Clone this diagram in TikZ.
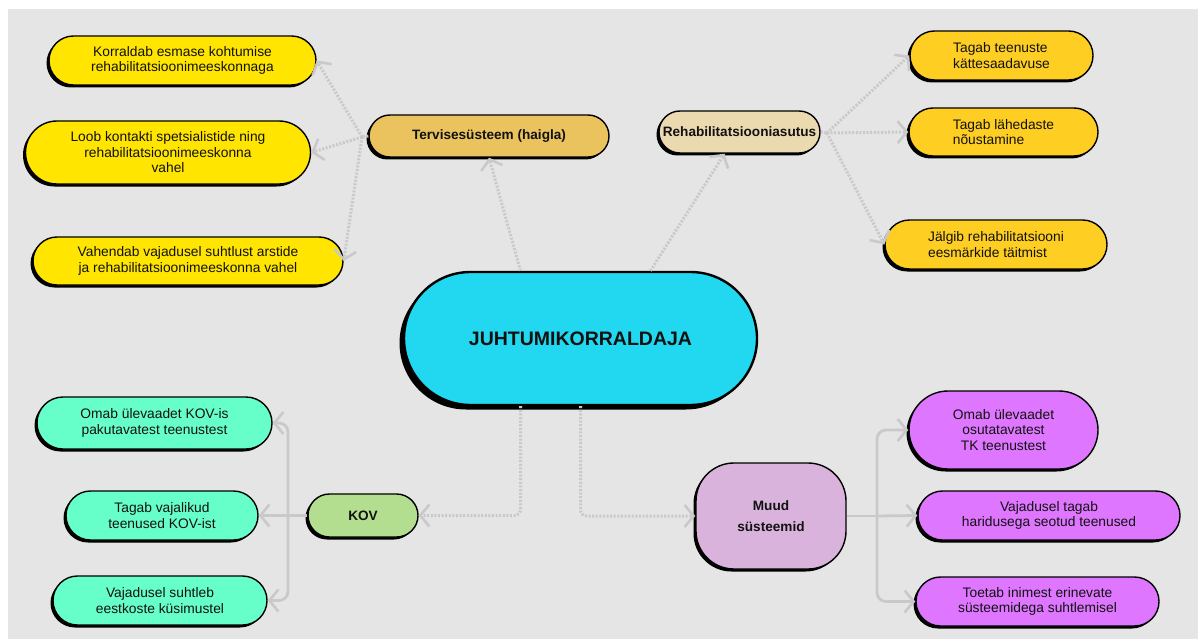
\documentclass[tikz,border=0pt]{standalone}
\usepackage{fontspec}
\setmainfont{Liberation Sans}
\usetikzlibrary{arrows.meta,shadows,calc}
\definecolor{bgc}{HTML}{E5E5E5}
\definecolor{linec}{HTML}{C9C9C9}
\definecolor{txt}{HTML}{111111}
\definecolor{yel}{HTML}{FFE500}
\definecolor{terv}{HTML}{EBC35E}
\definecolor{rehab}{HTML}{EBD9B0}
\definecolor{ora}{HTML}{FFCE22}
\definecolor{cyanc}{HTML}{22D8F0}
\definecolor{mint}{HTML}{66FFCA}
\definecolor{kovc}{HTML}{B3DE8F}
\definecolor{muudc}{HTML}{D9B3DC}
\definecolor{purp}{HTML}{DF76FF}
\begin{document}
\begin{tikzpicture}[x=1pt,y=-1pt,
  box/.style={draw=black, line width=1.4pt, inner sep=0pt, text=txt, align=center,
    font=\fontsize{13.8}{15.5}\selectfont,
    general shadow={fill=black, shadow xshift=-2.5pt, shadow yshift=-2.5pt}},
  head/.style={box, font=\fontsize{13.6}{15.5}\selectfont\bfseries},
  tipc/.style={-{Straight Barb[length=9pt,width=22pt,line width=2.6pt]}},
  dotc/.style={draw=linec, line width=3pt, dash pattern=on 2pt off 1.6pt, rounded corners=6pt, tipc},
  dotp/.style={draw=linec, line width=3pt, dash pattern=on 2pt off 1.6pt},
  solc/.style={draw=linec, line width=2.8pt, rounded corners=9pt, tipc},
  solp/.style={draw=linec, line width=2.8pt, rounded corners=9pt}
]
\useasboundingbox (0,0) rectangle (1198,639);
\fill[white] (0,0) rectangle (1198,639);
\fill[bgc] (8,9) rectangle (1198,639);

% top-left
\node[box, fill=yel, minimum width=267pt, minimum height=49pt, rounded corners=24.5pt] (y1) at (182.5,60.5) {Korraldab esmase kohtumise\\rehabilitatsioonimeeskonnaga};
\node[box, fill=yel, minimum width=285pt, minimum height=63pt, rounded corners=31.5pt] (y2) at (168,152.5) {Loob kontakti spetsialistide ning\\rehabilitatsioonimeeskonna\\vahel};
\node[box, fill=yel, minimum width=310pt, minimum height=48pt, rounded corners=24pt] (y3) at (188,261) {Vahendab vajadusel suhtlust arstide\\ja rehabilitatsioonimeeskonna vahel};
\node[head, fill=terv, minimum width=240pt, minimum height=42pt, rounded corners=21pt] (tv) at (489,136) {Tervisesüsteem (haigla)};

% top-right
\node[head, fill=rehab, minimum width=161pt, minimum height=42pt, rounded corners=21pt] (rh) at (739.5,132) {Rehabilitatsiooniasutus};
\node[box, fill=ora, minimum width=183pt, minimum height=49pt, rounded corners=24.5pt, align=left] (o1) at (1001.5,55.5) {Tagab teenuste\\kättesaadavuse};
\node[box, fill=ora, minimum width=189pt, minimum height=48pt, rounded corners=24pt, align=left] (o2) at (1003.5,132) {Tagab lähedaste\\nõustamine};
\node[box, fill=ora, minimum width=222pt, minimum height=49pt, rounded corners=24.5pt, align=left] (o3) at (996,244.5) {Jälgib rehabilitatsiooni\\eesmärkide täitmist};

% center
\node[box, fill=cyanc, line width=2.4pt, minimum width=353pt, minimum height=133pt, rounded corners=66.5pt,
  general shadow={fill=black, shadow xshift=-4.5pt, shadow yshift=-4.5pt},
  font=\fontsize{19.5}{24}\selectfont\bfseries] (c) at (580.5,338.5) {JUHTUMIKORRALDAJA};

% bottom-left
\node[box, fill=mint, minimum width=235pt, minimum height=52pt, rounded corners=26pt] (g1) at (154.5,423) {Omab ülevaadet KOV-is\\pakutavatest teenustest};
\node[box, fill=mint, minimum width=192pt, minimum height=49pt, rounded corners=24.5pt] (g2) at (162,515.5) {Tagab vajalikud\\teenused KOV-ist};
\node[box, fill=mint, minimum width=214pt, minimum height=49pt, rounded corners=24.5pt] (g3) at (160,600.5) {Vajadusel suhtleb\\eestkoste küsimustel};
\node[head, fill=kovc, minimum width=110pt, minimum height=43pt, rounded corners=21.5pt] (kov) at (363,515.5) {KOV};

% bottom-right
\node[head, fill=muudc, minimum width=150pt, minimum height=106pt, rounded corners=38pt, font=\fontsize{13.6}{21}\selectfont\bfseries] (md) at (771,516) {Muud\\süsteemid};
\node[box, fill=purp, minimum width=189pt, minimum height=78pt, rounded corners=39pt] (p1) at (1003.5,430) {Omab ülevaadet\\osutatavatest\\TK teenustest};
\node[box, fill=purp, minimum width=262pt, minimum height=49pt, rounded corners=24.5pt] (p2) at (1049,515.5) {Vajadusel tagab\\haridusega seotud teenused};
\node[box, fill=purp, minimum width=243pt, minimum height=49pt, rounded corners=24.5pt] (p3) at (1037.5,601.5) {Toetab inimest erinevate\\süsteemidega suhtlemisel};

% connectors
\coordinate (tj) at (362,137);
\coordinate (rj) at (827,133);
\draw[dotc] ([xshift=-60pt]c.north) -- (tv.south);
\draw[dotc] ([xshift=70pt]c.north) -- ([xshift=-15pt]rh.south);
\draw[dotp] (tv.west) -- (tj);
\draw[dotc] (tj) -- (y1.east);
\draw[dotc] (tj) -- (y2.east);
\draw[dotc] (tj) -- (y3.east);
\draw[dotp] (rh.east) -- (rj);
\draw[dotc] (rj) -- (o1.west);
\draw[dotc] (rj) -- (o2.west);
\draw[dotc] (rj) -- (o3.west);
\draw[dotc] ([xshift=-60pt]c.south) |- (kov.east);
\draw[dotc] (c.south) |- (md.west);

\coordinate (kj) at (288,515.5);
\draw[solp] (kov.west) -- (kj);
\draw[solc] (kj) -- (g2.east);
\draw[solc] (kj) |- (g1.east);
\draw[solc] (kj) |- (g3.east);

\coordinate (mj) at (877,516);
\draw[solp] (md.east) -- (mj);
\draw[solc] (mj) -- (p2.west);
\draw[solc] (mj) |- (p1.west);
\draw[solc] (mj) |- (p3.west);
\end{tikzpicture}
\end{document}
